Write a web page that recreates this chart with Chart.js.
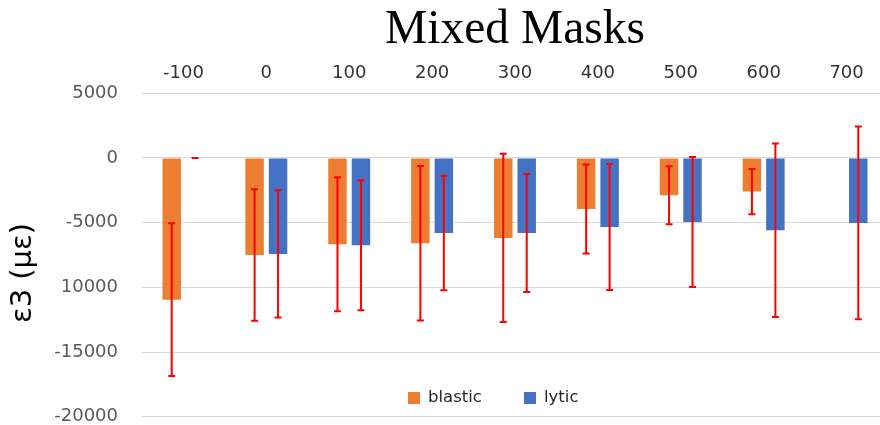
<!DOCTYPE html>
<html>
<head>
<meta charset="utf-8">
<title>Mixed Masks</title>
<script src="https://cdn.jsdelivr.net/npm/chart.js@4/dist/chart.umd.min.js"></script>
<style>
  html, body { margin: 0; padding: 0; background: #ffffff; overflow: hidden; }
  #wrap { position: relative; width: 890px; height: 425px; }
  #chart { position: absolute; left: 0; top: 0; }
  .key { position: absolute; font-family: "DejaVu Sans", sans-serif; font-size: 16.5px; color: #262626; line-height: 20px; white-space: nowrap; }
  .key i { position: absolute; left: 0; top: 4px; width: 12px; height: 12px; }
  .key span { position: absolute; left: 20px; top: -1px; }
</style>
</head>
<body>
<div id="wrap">
  <canvas id="chart" width="890" height="425"></canvas>
  <div class="key" id="keyBlastic" style="left:408px; top:388px;"><i></i><span></span></div>
  <div class="key" id="keyLytic" style="left:524px; top:388px;"><i></i><span></span></div>
</div>
<script>
// Offset groups along the top axis
const categories = ['-100', '0', '100', '200', '300', '400', '500', '600', '700'];

// Mean ε3 strain (με) per group, with symmetric error (± SD)
const blastic    = [-10950, -7500, -6670, -6590, -6180, -3940, -2880, -2600, null];
const blasticErr = [  5900,  5090,  5180,  5975,  6500,  3440,  2250,  1755, null];
const lytic      = [     0, -7420, -6750, -5800, -5800, -5330, -4950, -5590, -5020];
const lyticErr   = [     0,  4920,  5025,  4430,  4560,  4870,  5020,  6710,  7450];

// Value-axis tick labels, top to bottom
const tickValues = [5000, 0, -5000, -10000, -15000, -20000];
const tickLabels = ['5000', '0', '-5000', '10000', '-15000', '-20000'];

const seriesNames = ['blastic', 'lytic'];
const seriesColors = ['#ED7D31', '#4472C4'];

// HTML legend
[['keyBlastic', 0], ['keyLytic', 1]].forEach(([id, i]) => {
  const el = document.getElementById(id);
  el.querySelector('i').style.background = seriesColors[i];
  el.querySelector('span').textContent = seriesNames[i];
});

// Draws red error bars with caps on every bar that has a value
const errorBars = {
  id: 'errorBars',
  afterDatasetsDraw(chart) {
    const { ctx } = chart;
    const y = chart.scales.y;
    ctx.save();
    ctx.strokeStyle = '#FF0000';
    ctx.lineWidth = 2;
    chart.data.datasets.forEach((ds, di) => {
      const meta = chart.getDatasetMeta(di);
      meta.data.forEach((bar, i) => {
        const v = ds.data[i];
        const e = ds.errors[i];
        if (v === null || e === null) return;
        const x = bar.x;
        const yt = y.getPixelForValue(v + e);
        const yb = y.getPixelForValue(v - e);
        ctx.beginPath();
        ctx.moveTo(x, yt); ctx.lineTo(x, yb);
        ctx.moveTo(x - 3.5, yt); ctx.lineTo(x + 3.5, yt);
        ctx.moveTo(x - 3.5, yb); ctx.lineTo(x + 3.5, yb);
        ctx.stroke();
      });
    });
    ctx.restore();
  }
};

// Rotated value-axis title
const axisTitle = {
  id: 'axisTitle',
  afterDraw(chart) {
    const { ctx } = chart;
    ctx.save();
    ctx.translate(23, 273);
    ctx.rotate(-Math.PI / 2);
    ctx.font = '29px "DejaVu Sans"';
    ctx.fillStyle = '#000000';
    ctx.textAlign = 'center';
    ctx.textBaseline = 'middle';
    ctx.fillText('ε3 (με)', 0, 0);
    ctx.restore();
  }
};

new Chart(document.getElementById('chart'), {
  type: 'bar',
  data: {
    labels: categories,
    datasets: [
      { label: seriesNames[0], data: blastic, errors: blasticErr, backgroundColor: seriesColors[0],
        categoryPercentage: 0.566, barPercentage: 0.787 },
      { label: seriesNames[1], data: lytic, errors: lyticErr, backgroundColor: seriesColors[1],
        categoryPercentage: 0.566, barPercentage: 0.787 }
    ]
  },
  options: {
    responsive: false,
    devicePixelRatio: 1,
    animation: false,
    layout: { padding: { left: 0, right: 2, top: 0, bottom: 8.3 } },
    plugins: {
      legend: { display: false },
      tooltip: { enabled: false },
      title: {
        display: true,
        text: 'Mixed Masks',
        fullSize: false,
        color: '#000000',
        font: { family: '"Liberation Serif", serif', size: 47.5, weight: 'normal', lineHeight: 1.12 },
        padding: { top: 4, bottom: 0 }
      }
    },
    scales: {
      x: {
        position: 'top',
        grid: { display: false, drawTicks: false },
        border: { display: false },
        ticks: {
          color: '#333333',
          padding: 9,
          maxRotation: 0,
          font: { family: '"DejaVu Sans", sans-serif', size: 18 }
        },
        afterFit(scale) { scale.height = 93.3 - 4 - 47.5 * 1.12; }
      },
      y: {
        min: -20000,
        max: 5000,
        grid: { color: '#D9D9D9', lineWidth: 1, drawTicks: false },
        border: { display: false },
        ticks: {
          stepSize: 5000,
          padding: 24,
          color: '#595959',
          font: { family: '"DejaVu Sans", sans-serif', size: 18 },
          callback(value) {
            const k = tickValues.indexOf(value);
            return k >= 0 ? tickLabels[k] : '';
          }
        },
        afterFit(scale) {
          scale.width = 142;
          scale.paddingTop = 0;
          scale.paddingBottom = 0;
        }
      }
    }
  },
  plugins: [errorBars, axisTitle]
});
</script>
</body>
</html>
